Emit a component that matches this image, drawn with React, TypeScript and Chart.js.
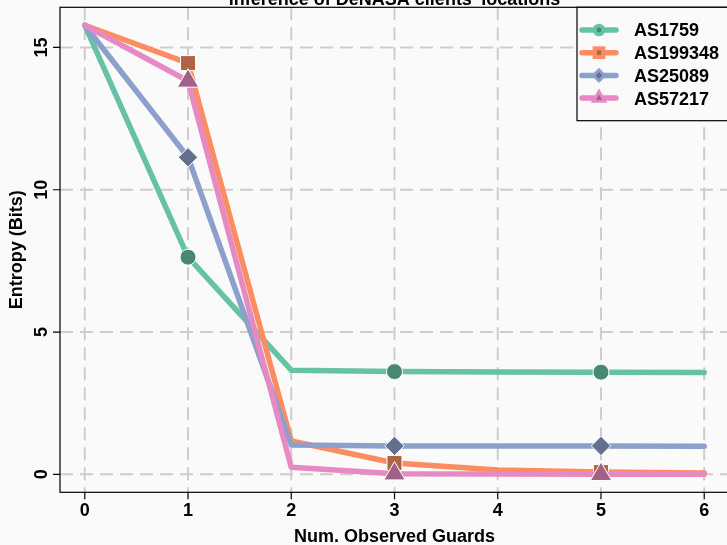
import React, { useEffect, useRef } from "react";
import { Chart, registerables } from "chart.js";

Chart.register(...registerables);

// ---- data ----
const xValues = [0, 1, 2, 3, 4, 5, 6];
const xTickLabels = ["0", "1", "2", "3", "4", "5", "6"];
const yTickValues = [0, 5, 10, 15];
const yTickLabels = ["0", "5", "10", "15"];
const seriesNames = ["AS1759", "AS199348", "AS25089", "AS57217"];
const as1759 = [15.78, 7.63, 3.66, 3.61, 3.6, 3.59, 3.58];
const as199348 = [15.78, 14.45, 1.17, 0.4, 0.15, 0.08, 0.05];
const as25089 = [15.78, 11.14, 1.03, 1.0, 1.0, 1.0, 0.99];
const as57217 = [15.78, 13.82, 0.25, 0.02, 0.01, 0.0, 0.0];
const seriesValues = [as1759, as199348, as25089, as57217];
const markedIndices = [1, 3, 5];
const titleText = "Inference of DeNASA clients' locations";
const xTitle = "Num. Observed Guards";
const yTitle = "Entropy (Bits)";

// ---- styles ----
const lineColors = ["#66c2a5", "#fc8d62", "#8da0cb", "#e78ac3"];
const markerColors = ["#478873", "#b06345", "#63708e", "#a26189"];
const markerStyles = ["circle", "rect", "rectRot", "triangle"];
const markerRadii = [8, 10.6, 9.7, 12.3];
const FONT = '"Liberation Sans", Arial, Helvetica, sans-serif';
const BG = "#fafafa";

function shape(ctx: CanvasRenderingContext2D, style: string, cx: number, cy: number, r: number) {
  ctx.beginPath();
  if (style === "circle") {
    ctx.arc(cx, cy, r, 0, Math.PI * 2);
  } else if (style === "rect") {
    const s = r * Math.SQRT1_2;
    ctx.rect(cx - s, cy - s, 2 * s, 2 * s);
  } else if (style === "rectRot") {
    ctx.moveTo(cx - r, cy);
    ctx.lineTo(cx, cy - r);
    ctx.lineTo(cx + r, cy);
    ctx.lineTo(cx, cy + r);
    ctx.closePath();
  } else {
    ctx.moveTo(cx, cy - r);
    ctx.lineTo(cx + 0.866 * r, cy + 0.5 * r);
    ctx.lineTo(cx - 0.866 * r, cy + 0.5 * r);
    ctx.closePath();
  }
  ctx.fill();
}

const decor = {
  id: "decor",
  beforeDraw(chart: any) {
    const { ctx, width, height } = chart;
    ctx.save();
    ctx.fillStyle = BG;
    ctx.fillRect(0, 0, width, height);
    ctx.restore();
  },
  beforeDatasetsDraw(chart: any) {
    const { ctx, chartArea: a, scales } = chart;
    const x = scales.x;
    const y = scales.y;
    ctx.save();
    ctx.strokeStyle = "#cdcdcd";
    ctx.lineWidth = 2;
    ctx.setLineDash([13, 7]);
    for (const v of xValues) {
      const px = x.getPixelForValue(v);
      ctx.beginPath();
      ctx.moveTo(px, a.top);
      ctx.lineTo(px, a.bottom);
      ctx.stroke();
    }
    for (const v of yTickValues) {
      const py = y.getPixelForValue(v);
      ctx.beginPath();
      ctx.moveTo(a.left, py);
      ctx.lineTo(a.right, py);
      ctx.stroke();
    }
    ctx.restore();
  },
  afterDatasetsDraw(chart: any) {
    const { ctx, chartArea: a, scales } = chart;
    const x = scales.x;
    const y = scales.y;
    ctx.save();
    // plot box
    ctx.strokeStyle = "#000";
    ctx.lineWidth = 1.2;
    ctx.setLineDash([]);
    ctx.strokeRect(a.left, a.top, a.right - a.left, a.bottom - a.top);
    // ticks
    ctx.beginPath();
    for (const v of xValues) {
      const px = x.getPixelForValue(v);
      ctx.moveTo(px, a.bottom);
      ctx.lineTo(px, a.bottom + 7);
    }
    for (const v of yTickValues) {
      const py = y.getPixelForValue(v);
      ctx.moveTo(a.left - 7, py);
      ctx.lineTo(a.left, py);
    }
    ctx.stroke();
    // tick labels
    ctx.fillStyle = "#000";
    ctx.font = `bold 18px ${FONT}`;
    ctx.textAlign = "center";
    ctx.textBaseline = "alphabetic";
    xValues.forEach((v, i) => {
      ctx.fillText(xTickLabels[i], x.getPixelForValue(v), a.bottom + 23.5);
    });
    yTickValues.forEach((v, i) => {
      const py = y.getPixelForValue(v);
      ctx.save();
      ctx.translate(a.left - 12.8, py);
      ctx.rotate(-Math.PI / 2);
      ctx.fillText(yTickLabels[i], 0, 0);
      ctx.restore();
    });
    // axis titles
    ctx.fillText(xTitle, (a.left + a.right) / 2, 541.5);
    ctx.save();
    ctx.translate(22, (a.top + a.bottom) / 2);
    ctx.rotate(-Math.PI / 2);
    ctx.fillText(yTitle, 0, 0);
    ctx.restore();
    // main title (partly clipped at top)
    ctx.fillText(titleText, (a.left + a.right) / 2, 5);

    // legend
    const lx = 577;
    const ly = a.top;
    const lb = 120.7;
    ctx.fillStyle = BG;
    ctx.fillRect(lx, ly, a.right - lx, lb - ly);
    ctx.strokeStyle = "#000";
    ctx.lineWidth = 1.2;
    ctx.strokeRect(lx, ly, a.right - lx, lb - ly);
    const bigR = [6.3, 9, 7.6, 9.5];
    const smallR = [2.4, 3.2, 3.3, 3.6];
    seriesNames.forEach((name, i) => {
      const cy = 30 + i * 22.7;
      ctx.strokeStyle = lineColors[i];
      ctx.lineWidth = 5.5;
      ctx.lineCap = "round";
      ctx.beginPath();
      ctx.moveTo(582, cy);
      ctx.lineTo(616, cy);
      ctx.stroke();
      ctx.fillStyle = lineColors[i];
      shape(ctx, markerStyles[i], 599, cy, bigR[i]);
      ctx.fillStyle = markerColors[i];
      shape(ctx, markerStyles[i], 599, cy, smallR[i]);
      ctx.fillStyle = "#000";
      ctx.textAlign = "left";
      ctx.fillText(name, 634, cy + 6.4);
    });
    ctx.restore();
  },
};

export default function App() {
  const canvasRef = useRef<HTMLCanvasElement | null>(null);

  useEffect(() => {
    document.documentElement.style.overflow = "hidden";
    document.body.style.overflow = "hidden";
    document.body.style.background = BG;
    const canvas = canvasRef.current;
    if (!canvas) return;
    const chart = new Chart(canvas, {
      type: "line",
      data: {
        datasets: seriesValues.map((vals, i) => ({
          label: seriesNames[i],
          data: xValues.map((xv, j) => ({ x: xv, y: vals[j] })),
          borderColor: lineColors[i],
          backgroundColor: markerColors[i],
          borderWidth: 5.5,
          borderCapStyle: "round",
          borderJoinStyle: "round",
          pointStyle: markerStyles[i],
          pointRadius: xValues.map((_, j) => (markedIndices.includes(j) ? markerRadii[i] : 0)),
          pointHoverRadius: 0,
          pointBackgroundColor: markerColors[i],
          pointBorderColor: "#ffffff",
          pointBorderWidth: 1,
          tension: 0,
          fill: false,
          order: 4 - i,
          clip: false,
        })) as any,
      },
      options: {
        responsive: false,
        animation: false,
        devicePixelRatio: 1,
        events: [],
        layout: { padding: { left: 60, right: 6, top: 7.3, bottom: 52.7 } },
        scales: {
          x: { type: "linear", min: -0.24, max: 6.24, display: false },
          y: { type: "linear", min: -0.631, max: 16.41, display: false },
        },
        plugins: {
          legend: { display: false },
          title: { display: false },
          tooltip: { enabled: false },
        },
      },
      plugins: [decor],
    });
    return () => chart.destroy();
  }, []);

  return (
    <div style={{ position: "fixed", left: 0, top: 0, width: 735, height: 545, background: BG }}>
      <canvas ref={canvasRef} width={735} height={545} style={{ display: "block" }} />
    </div>
  );
}
